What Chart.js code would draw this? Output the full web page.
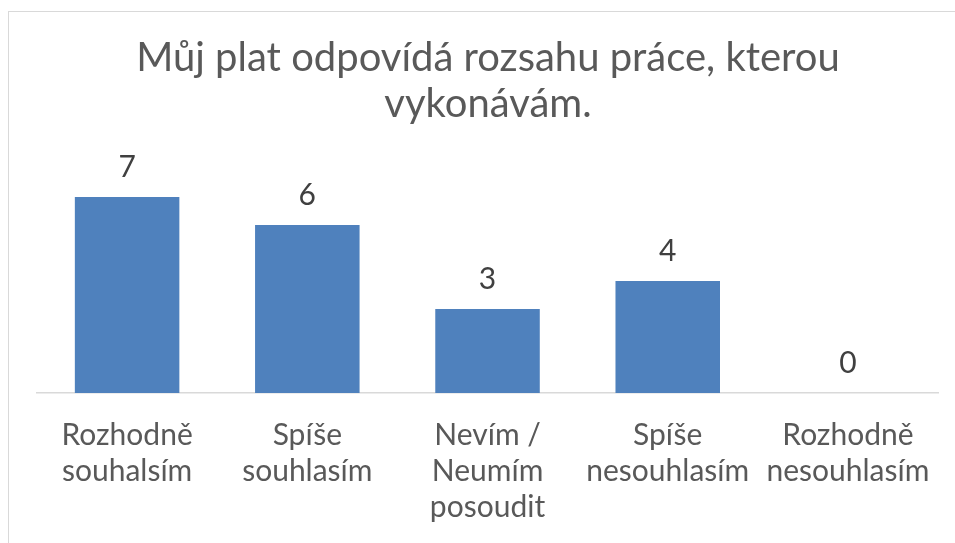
<!DOCTYPE html>
<html>
<head>
<meta charset="utf-8">
<script src="https://cdn.jsdelivr.net/npm/chart.js@4.4.0/dist/chart.umd.min.js"></script>
<style>
  html, body { margin: 0; padding: 0; background: #ffffff; overflow: hidden; }
  #frame {
    position: absolute; left: 8px; top: 11px; width: 1000px; height: 600px;
    border: 1px solid #d9d9d9; z-index: 0;
  }
  #wrap { position: absolute; left: 0; top: 0; width: 955px; height: 543px; z-index: 1; }
</style>
</head>
<body>
<div id="frame"></div>
<div id="wrap"><canvas id="surveyChart" width="955" height="543"></canvas></div>
<script>
// answer categories (each one split into lines as in the original)
let answers = [
  ["Rozhodně", "souhalsím"],
  ["Spíše", "souhlasím"],
  ["Nevím /", "Neumím", "posoudit"],
  ["Spíše", "nesouhlasím"],
  ["Rozhodně", "nesouhlasím"],
];

// number of respondents for each answer
let counts = [7, 6, 3, 4, 0];

// title split into two lines
let titleLines = ["Můj plat odpovídá rozsahu práce, kterou", "vykonávám."];

let canvas = document.querySelector("#surveyChart");
let context = canvas.getContext("2d");

// writes the value above each bar
let valueLabels = {
  id: "valueLabels",
  afterDatasetsDraw(chart) {
    let ctx = chart.ctx;
    ctx.save();
    ctx.font = "30px Lato";
    ctx.fillStyle = "#404040";
    ctx.textAlign = "center";
    ctx.textBaseline = "alphabetic";
    chart.getDatasetMeta(0).data.forEach(function (bar, i) {
      ctx.fillText(String(counts[i]), bar.x, bar.y - 20);
    });
    ctx.restore();
  },
};

let surveyChart = new Chart(context, {
  type: "bar",
  data: {
    labels: answers,
    datasets: [
      {
        data: counts,
        backgroundColor: "#4F81BD",
        categoryPercentage: 1,
        barPercentage: 0.58,
      },
    ],
  },
  options: {
    responsive: false,
    animation: false,
    layout: {
      padding: { left: 37, right: 16, top: 0, bottom: -6 },
    },
    plugins: {
      legend: { display: false },
      tooltip: { enabled: false },
      title: {
        display: true,
        text: titleLines,
        color: "#595959",
        font: { family: "Lato", size: 40, weight: "normal", lineHeight: 1.15 },
        padding: { top: 35, bottom: 42 },
      },
    },
    scales: {
      x: {
        grid: { display: false, drawTicks: false },
        border: { display: true, color: "#d9d9d9", width: 1.5 },
        ticks: {
          color: "#595959",
          font: { family: "Lato", size: 30, lineHeight: 1.2 },
          padding: 24,
          maxRotation: 0,
          autoSkip: false,
        },
      },
      y: {
        display: false,
        min: 0,
        max: 8,
      },
    },
  },
  plugins: [valueLabels],
});
</script>
</body>
</html>
